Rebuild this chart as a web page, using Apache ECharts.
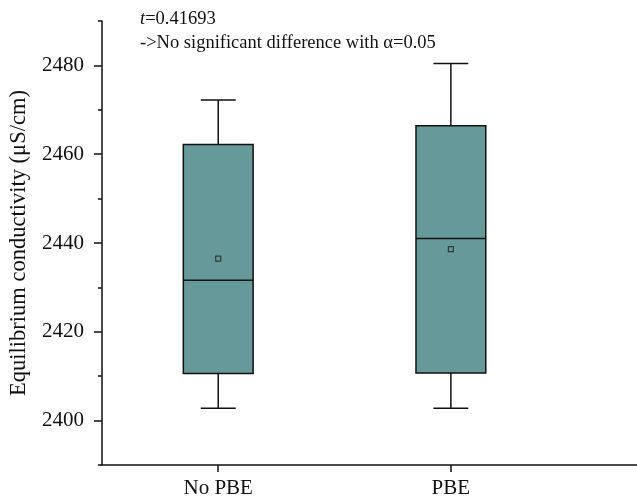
<!DOCTYPE html>
<html>
<head>
<meta charset="utf-8">
<script src="https://cdn.jsdelivr.net/npm/echarts@6/dist/echarts.min.js"></script>
<style>html,body{margin:0;padding:0;background:#fff;}#main{width:637px;height:499px;}</style>
</head>
<body>
<div id="main"></div>
<script>
const categories = ['No PBE', 'PBE'];
const positions = [1, 2];
const whiskerLow = [2402.8, 2402.8];
const q1 = [2410.6, 2410.7];
const median = [2431.6, 2441.0];
const q3 = [2462.2, 2466.4];
const whiskerHigh = [2472.2, 2480.4];
const means = [2436.5, 2438.6];
const yMajorTicks = [2400, 2420, 2440, 2460, 2480];

const FONT = '"Liberation Serif", serif';
const BOX_W = 0.3;

const boxData = positions.map((p, i) => [p, whiskerLow[i], q1[i], median[i], q3[i], whiskerHigh[i]]);
const meanData = positions.map((p, i) => [p, means[i]]);

function renderItem(params, api) {
  const x = api.value(0);
  const pLow = api.coord([x, api.value(1)]);
  const pQ1 = api.coord([x, api.value(2)]);
  const pMed = api.coord([x, api.value(3)]);
  const pQ3 = api.coord([x, api.value(4)]);
  const pHigh = api.coord([x, api.value(5)]);
  const bw = api.size([BOX_W, 0])[0];
  const hw = bw / 2, cw = bw / 4;
  const cx = pMed[0];
  const ls = { stroke: '#111', lineWidth: 1.5 };
  return {
    type: 'group',
    children: [
      { type: 'line', shape: { x1: cx, y1: pHigh[1], x2: cx, y2: pQ3[1] }, style: ls },
      { type: 'line', shape: { x1: cx - cw, y1: pHigh[1], x2: cx + cw, y2: pHigh[1] }, style: ls },
      { type: 'line', shape: { x1: cx, y1: pQ1[1], x2: cx, y2: pLow[1] }, style: ls },
      { type: 'line', shape: { x1: cx - cw, y1: pLow[1], x2: cx + cw, y2: pLow[1] }, style: ls },
      { type: 'rect', shape: { x: cx - hw, y: pQ3[1], width: bw, height: pQ1[1] - pQ3[1] },
        style: { fill: '#669999', stroke: '#111', lineWidth: 1.5 } },
      { type: 'line', shape: { x1: cx - hw, y1: pMed[1], x2: cx + hw, y2: pMed[1] }, style: ls }
    ]
  };
}

const chart = echarts.init(document.getElementById('main'));
chart.setOption({
  animation: false,
  backgroundColor: '#fff',
  title: {
    left: 140, top: 7, padding: 0,
    text: '{i|t}=0.41693\n->No significant difference with α=0.05',
    textStyle: {
      fontFamily: FONT, fontSize: 18.5, fontWeight: 'normal', color: '#111', lineHeight: 24,
      rich: { i: { fontStyle: 'italic', fontFamily: FONT, fontSize: 18.5, color: '#111', lineHeight: 24 } }
    }
  },
  grid: { left: 100, right: 0, top: 21, bottom: 33 },
  xAxis: {
    type: 'value', min: 0.5, max: 2.8,
    splitLine: { show: false },
    axisLine: { show: true, lineStyle: { color: '#111', width: 1.5 } },
    axisTick: { show: true, customValues: positions, length: 7, lineStyle: { color: '#111', width: 1.5 } },
    axisLabel: {
      customValues: positions, margin: 13,
      formatter: v => categories[positions.indexOf(v)] || '',
      fontFamily: FONT, fontSize: 21, color: '#111'
    }
  },
  yAxis: [
    {
      type: 'value', min: 2390, max: 2490, interval: 10,
      splitLine: { show: false },
      axisLine: { show: true, lineStyle: { color: '#111', width: 1.5 } },
      axisTick: { show: true, length: 4, lineStyle: { color: '#111', width: 1.5 } },
      axisLabel: { show: false }
    },
    {
      type: 'value', min: 2390, max: 2490, position: 'left',
      splitLine: { show: false },
      axisLine: { show: false },
      axisTick: { show: true, customValues: yMajorTicks, length: 8, lineStyle: { color: '#111', width: 1.5 } },
      axisLabel: { customValues: yMajorTicks, margin: 18, formatter: v => String(v),
        fontFamily: FONT, fontSize: 21, color: '#111' },
      name: 'Equilibrium conductivity (μS/cm)',
      nameLocation: 'middle', nameGap: 70,
      nameTextStyle: { fontFamily: FONT, fontSize: 22.5, color: '#111' }
    }
  ],
  series: [
    {
      type: 'custom', renderItem: renderItem, data: boxData,
      encode: { x: 0, y: [1, 2, 3, 4, 5] }, yAxisIndex: 0, z: 2
    },
    {
      type: 'scatter', data: meanData, yAxisIndex: 0, symbol: 'rect', symbolSize: 5, z: 3,
      itemStyle: { color: 'rgba(0,0,0,0)', borderColor: '#222', borderWidth: 1.2 }
    }
  ]
});
</script>
</body>
</html>
